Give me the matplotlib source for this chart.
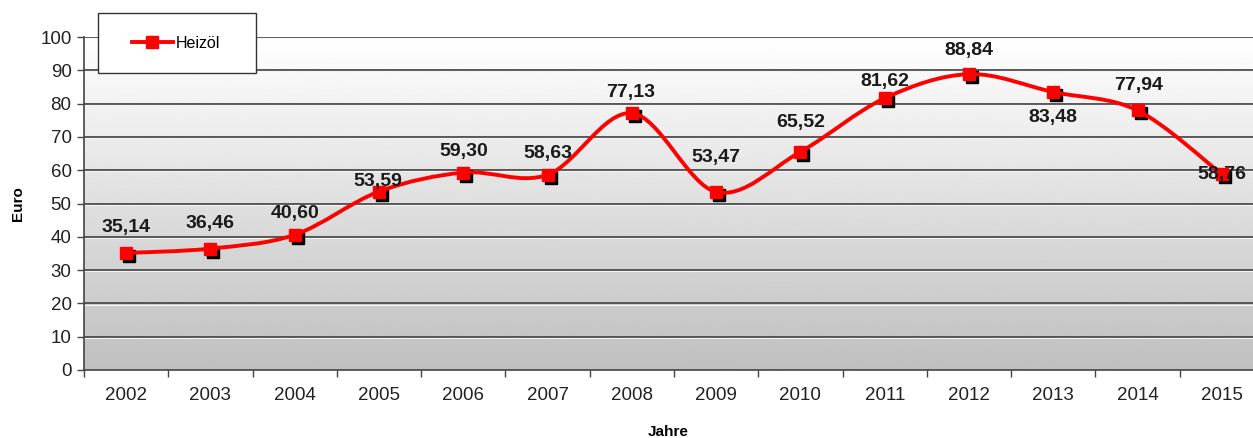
import numpy as np
import matplotlib.pyplot as plt
from matplotlib.path import Path
from matplotlib.patches import PathPatch, Rectangle
from matplotlib.lines import Line2D
import matplotlib.transforms as mtransforms

plt.rcParams['font.family'] = ['Liberation Sans', 'DejaVu Sans']

# Heizöl prices per year
years = ["2002", "2003", "2004", "2005", "2006", "2007", "2008",
         "2009", "2010", "2011", "2012", "2013", "2014", "2015"]
prices = [35.14, 36.46, 40.60, 53.59, 59.30, 58.63, 77.13,
          53.47, 65.52, 81.62, 88.84, 83.48, 77.94, 58.76]
labels = ["35,14", "36,46", "40,60", "53,59", "59,30", "58,63", "77,13",
          "53,47", "65,52", "81,62", "88,84", "83,48", "77,94", "58,76"]
# label offsets in points (dx, dy)
label_offsets = [(0, 18), (0, 18), (0, 15), (-1, 7), (0, 15), (0, 15), (-1, 15),
                 (0, 25), (0, 21), (0, 12), (0, 17), (0, -18), (1, 18), (0, 0)]

fig = plt.figure(figsize=(12.53, 4.38), dpi=100)
ax = fig.add_axes([84 / 1253, 68 / 438, 1180 / 1253, 333 / 438])

x = np.arange(len(years))
y = np.array(prices)

ax.set_xlim(-0.5, len(years) - 0.5)
ax.set_ylim(0, 100)

# vertical gradient background
grad = np.linspace(0.75, 1.0, 256).reshape(-1, 1)
ax.imshow(grad, extent=[-0.5, len(years) - 0.5, 0, 100], origin='lower',
          aspect='auto', cmap='gray', vmin=0, vmax=1, zorder=0)

for gy in range(10, 101, 10):
    ax.axhline(gy, color='#4a4a4a', lw=1.3, zorder=1)
    ax.axhline(gy - 0.35, color='#f4f4f4', lw=0.8, zorder=1)

# smoothed line (Bezier through points, Catmull-Rom tangents)
pts = np.column_stack([x, y]).astype(float)
ext = np.vstack([pts[0], pts, pts[-1]])
verts = [pts[0]]
codes = [Path.MOVETO]
for i in range(len(pts) - 1):
    p0, p1, p2, p3 = ext[i], ext[i + 1], ext[i + 2], ext[i + 3]
    c1 = p1 + (p2 - p0) / 6
    c2 = p2 - (p3 - p1) / 6
    verts += [c1, c2, p2]
    codes += [Path.CURVE4] * 3
ax.add_patch(PathPatch(Path(verts, codes), fill=False, edgecolor='#ff0000',
                       lw=2.8, zorder=3, capstyle='round'))

shadow = mtransforms.offset_copy(ax.transData, fig=fig, x=3, y=-3, units='dots')
ax.plot(x, y, 's', color='black', ms=9, transform=shadow, zorder=2.5)
ax.plot(x, y, 's', color='#ff0000', ms=9, zorder=4)

for xi, yi, lab, (dx, dy) in zip(x, y, labels, label_offsets):
    ax.annotate(lab, (xi, yi), xytext=(dx, dy), textcoords='offset points',
                ha='center', va='center', fontsize=14, fontweight='bold',
                color='#1a1a1a', zorder=5)

ax.set_yticks(range(0, 101, 10))
ax.set_xticks(x)
ax.set_xticklabels(years)
ax.set_xticks(np.arange(-0.5, len(years), 1), minor=True)
ax.tick_params(axis='x', which='major', length=0, pad=12, labelsize=13.5, colors='#222222')
ax.tick_params(axis='x', which='minor', length=5, width=1, color='#444444')
ax.tick_params(axis='y', length=5, width=1, color='#444444', labelsize=13.5,
               labelcolor='#222222', pad=4)
for s in ['top', 'right']:
    ax.spines[s].set_visible(False)
ax.spines['left'].set_color('#444444')
ax.spines['bottom'].set_color('#444444')
ax.spines['left'].set_linewidth(1.2)
ax.spines['bottom'].set_linewidth(1.2)

ax.set_ylabel('Euro', fontsize=11, fontweight='bold', labelpad=11)
fig.text(668 / 1253, 1 - 432 / 438, 'Jahre', ha='center', va='center',
         fontsize=11, fontweight='bold')

# legend box with the entry centred inside
box = (98 / 1253, 1 - 73 / 438, 158 / 1253, 60 / 438)
fig.patches.append(Rectangle(box[:2], box[2], box[3], transform=fig.transFigure,
                             facecolor='white', edgecolor='#333333', lw=1.0,
                             zorder=5))
handle = Line2D([], [], color='#ff0000', lw=2.8, marker='s', ms=8)
leg = fig.legend([handle], ['Heizöl'], loc='center',
                 bbox_to_anchor=(box[0] + box[2] / 2 - 0.001, box[1] + box[3] / 2),
                 bbox_transform=fig.transFigure, frameon=False, fontsize=11.5,
                 handlelength=2.6, handletextpad=0.15, borderaxespad=0)
leg.set_zorder(6)

fig.savefig('out.png', dpi=100)
